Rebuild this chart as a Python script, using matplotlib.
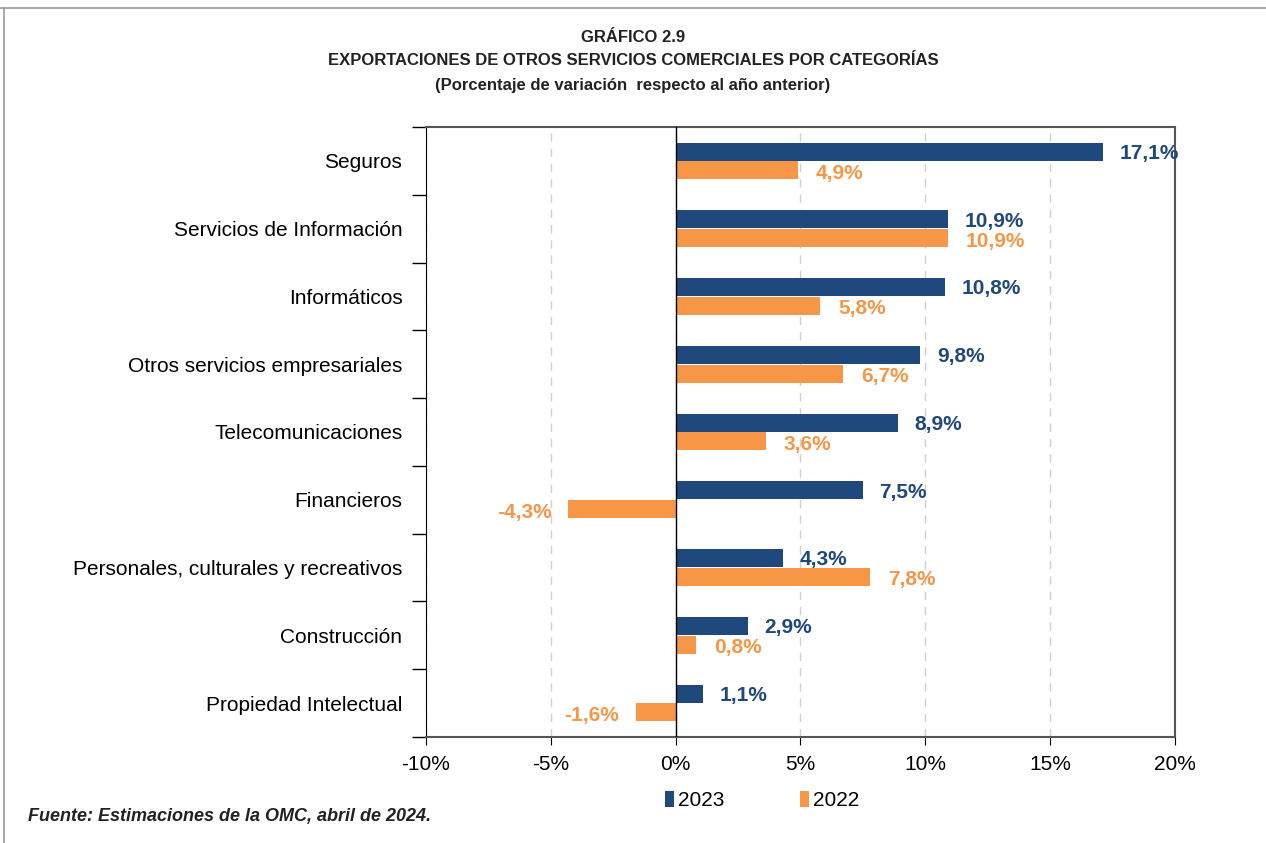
import matplotlib.pyplot as plt
import numpy as np
from matplotlib.ticker import FuncFormatter

plt.rcParams['font.family'] = ['Liberation Sans', 'DejaVu Sans']

categories = [
    "Seguros",
    "Servicios de Información",
    "Informáticos",
    "Otros servicios empresariales",
    "Telecomunicaciones",
    "Financieros",
    "Personales, culturales y recreativos",
    "Construcción",
    "Propiedad Intelectual",
]
values_2023 = [17.1, 10.9, 10.8, 9.8, 8.9, 7.5, 4.3, 2.9, 1.1]
values_2022 = [4.9, 10.9, 5.8, 6.7, 3.6, -4.3, 7.8, 0.8, -1.6]

blue = '#1F497D'
orange = '#F79646'

fig = plt.figure(figsize=(12.66, 8.43), dpi=100)
ax = fig.add_axes([0.3365, 0.1257, 0.5916, 0.7237])

y = np.arange(len(categories))
h = 0.265
ax.barh(y - h / 2 - 0.005, values_2023, h, color=blue, label='2023', zorder=3)
ax.barh(y + h / 2 + 0.005, values_2022, h, color=orange, label='2022', zorder=3)

def fmt(v):
    return f'{v:.1f}%'.replace('.', ',')

# value labels
for yi, v in zip(y, values_2023):
    ax.annotate(fmt(v), (v, yi - h / 2 + 0.02), xytext=(12 if v >= 0 else -12, 0),
                textcoords='offset points', ha='left' if v >= 0 else 'right',
                va='center', color=blue, fontsize=15, fontweight='bold', clip_on=False)
for yi, v in zip(y, values_2022):
    ax.annotate(fmt(v), (v, yi + h / 2 + 0.05), xytext=(13 if v >= 0 else -12, 0),
                textcoords='offset points', ha='left' if v >= 0 else 'right',
                va='center', color=orange, fontsize=15, fontweight='bold')

ax.set_xlim(-10, 20)
ax.set_ylim(len(categories) - 0.5, -0.5)
ax.set_xticks(np.arange(-10, 21, 5))
ax.xaxis.set_major_formatter(FuncFormatter(lambda v, p: f'{v:.0f}%'))
ax.set_yticks(y)
ax.set_yticklabels(categories, fontsize=15)
ax.set_yticks(np.arange(-0.5, len(categories), 1), minor=True)
ax.tick_params(axis='y', which='major', length=0, pad=17)
ax.tick_params(axis='y', which='minor', length=10, width=1, color='black', direction='out')
ax.tick_params(axis='x', labelsize=15, length=6, direction='out', pad=7)

ax.grid(axis='x', color='#D0D0D0', linestyle=(0, (6, 5)), linewidth=1, zorder=0)
ax.axvline(0, color='black', linewidth=1, zorder=4)
for s in ['top', 'right']:
    ax.spines[s].set_color('#555555')
    ax.spines[s].set_linewidth(1.5)
ax.spines['left'].set_color('black')
ax.spines['bottom'].set_color('#555555')
ax.spines['bottom'].set_linewidth(1.5)

title_font = ['Liberation Sans Narrow', 'Liberation Sans']
fig.text(0.5, 0.955, 'GRÁFICO 2.9', ha='center', va='center', fontsize=12, fontweight='bold',
         family=title_font, color='#222222')
fig.text(0.5, 0.928, 'EXPORTACIONES DE OTROS SERVICIOS COMERCIALES POR CATEGORÍAS', ha='center',
         va='center', fontsize=12, fontweight='bold', family=title_font, color='#222222')
fig.text(0.5, 0.899, '(Porcentaje de variación  respecto al año anterior)', ha='center', va='center',
         fontsize=12, fontweight='bold', family=title_font, color='#222222')

fig.legend(loc='center', bbox_to_anchor=(0.602, 0.05), ncol=2, frameon=False, fontsize=15,
           handlelength=0.45, handleheight=0.8, handletextpad=0.2, columnspacing=3.6)

fig.text(0.022, 0.032, 'Fuente: Estimaciones de la OMC, abril de 2024.', ha='left', va='center',
         fontsize=13, fontweight='bold', style='italic', family=title_font, color='#222222')

# outer frame lines (top and left)
fig.add_artist(plt.Line2D([0, 1], [0.9905, 0.9905], color='#999999', linewidth=1.2))
fig.add_artist(plt.Line2D([0.0035, 0.0035], [0, 0.9905], color='#999999', linewidth=1.2))

fig.savefig('out.png', dpi=100)
